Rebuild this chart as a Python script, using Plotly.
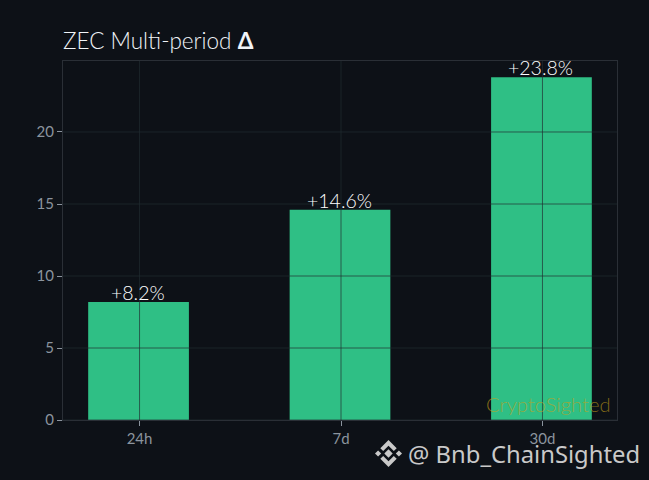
import plotly.graph_objects as go

periods = ["24h", "7d", "30d"]
changes = [8.2, 14.6, 23.8]
value_labels = ["+8.2%", "+14.6%", "+23.8%"]
y_ticks = [0, 5, 10, 15, 20]

W, H = 649, 480
L, R, T, B = 63, 617, 61, 420
FONT = "Lato"
BG = "#0d1117"
EDGE = "#2a2f36"
MUTED = "#8b949e"
TICK = "#8b949e"
GRID = "rgba(34,44,48,0.68)"
ICON = "#c9c9c9"

fig = go.Figure(go.Bar(x=list(range(len(periods))), y=changes, width=0.5, offset=-0.255,
                       marker=dict(color="#2fbf85", line_width=0), hoverinfo="skip"))

shapes = []
for t in y_ticks:
    shapes.append(dict(type="line", xref="paper", yref="y", x0=0, x1=1, y0=t, y1=t,
                       layer="above", line=dict(color=GRID, width=1)))
for i in range(len(periods)):
    shapes.append(dict(type="line", xref="x", yref="paper", x0=i, x1=i, y0=0, y1=1,
                       layer="above", line=dict(color=GRID, width=1)))

# Binance-style logo beside the handle text
cx, cy = 388.5, 453.5
icon_polys = [
    [(cx, cy - 4.2), (cx + 4.2, cy), (cx, cy + 4.2), (cx - 4.2, cy)],
    [(cx - 13.5, cy), (cx - 10.4, cy - 3.1), (cx - 7.3, cy), (cx - 10.4, cy + 3.1)],
    [(cx + 13.5, cy), (cx + 10.4, cy - 3.1), (cx + 7.3, cy), (cx + 10.4, cy + 3.1)],
    [(cx, cy - 13.5), (cx + 8.2, cy - 5.3), (cx + 5.3, cy - 2.4), (cx, cy - 7.7), (cx - 5.3, cy - 2.4), (cx - 8.2, cy - 5.3)],
    [(cx, cy + 13.5), (cx + 8.2, cy + 5.3), (cx + 5.3, cy + 2.4), (cx, cy + 7.7), (cx - 5.3, cy + 2.4), (cx - 8.2, cy + 5.3)],
]
for p in icon_polys:
    path = "M " + " L ".join(f"{(x - L) / (R - L):.5f},{(B - y) / (B - T):.5f}" for x, y in p) + " Z"
    shapes.append(dict(type="path", xref="paper", yref="paper", layer="above", path=path,
                       fillcolor=ICON, line_width=0))

annotations = [dict(x=i, y=v, text=lab, showarrow=False, xanchor="center", yanchor="bottom", yshift=-4, xshift=-2,
                    font=dict(family=FONT, size=19.5, weight=300, color="#ffffff"))
               for i, (v, lab) in enumerate(zip(changes, value_labels))]
annotations.append(dict(xref="paper", yref="paper", x=(611 - L) / (R - L), y=(B - 404) / (B - T), text="CryptoSighted",
                        showarrow=False, xanchor="right", yanchor="middle", xshift=2,
                        font=dict(family=FONT, size=20.2, weight=300, color="rgba(200,160,25,0.62)")))
annotations.append(dict(xref="paper", yref="paper", x=(406 - L) / (R - L), y=(B - 454) / (B - T), text="@ Bnb_ChainSighted",
                        showarrow=False, xanchor="left", yanchor="middle",
                        font=dict(family="Noto Sans", size=23.8, color=ICON)))

fig.update_layout(
    width=W, height=H, autosize=False,
    paper_bgcolor=BG, plot_bgcolor=BG, showlegend=False,
    margin=dict(l=L, r=W - R, t=T, b=H - B),
    title=dict(text="ZEC Multi-period <b>Δ</b>", x=L / W, xanchor="left", y=1 - 41 / H, yanchor="middle",
               font=dict(family=FONT, size=22.5, weight=300, color="#f0f4f8")),
    xaxis=dict(range=[-0.38, 2.37], tickvals=list(range(len(periods))), ticktext=periods,
               showgrid=False, zeroline=False, ticks="outside", ticklen=5, tickcolor=TICK, tickwidth=1,
               showline=True, linecolor=EDGE, mirror=True, linewidth=1,
               tickfont=dict(family=FONT, size=15, color=MUTED)),
    yaxis=dict(range=[0, 24.93], tickvals=y_ticks, showgrid=False, zeroline=False,
               ticks="outside", ticklen=5, tickcolor=TICK, tickwidth=1,
               showline=True, linecolor=EDGE, mirror=True, linewidth=1,
               tickfont=dict(family=FONT, size=15, color=MUTED)),
    shapes=shapes, annotations=annotations,
)

fig.write_html("out.html", config=dict(displayModeBar=False),
               post_script="document.body.style.margin='0';document.body.style.background='#0d1117';")
